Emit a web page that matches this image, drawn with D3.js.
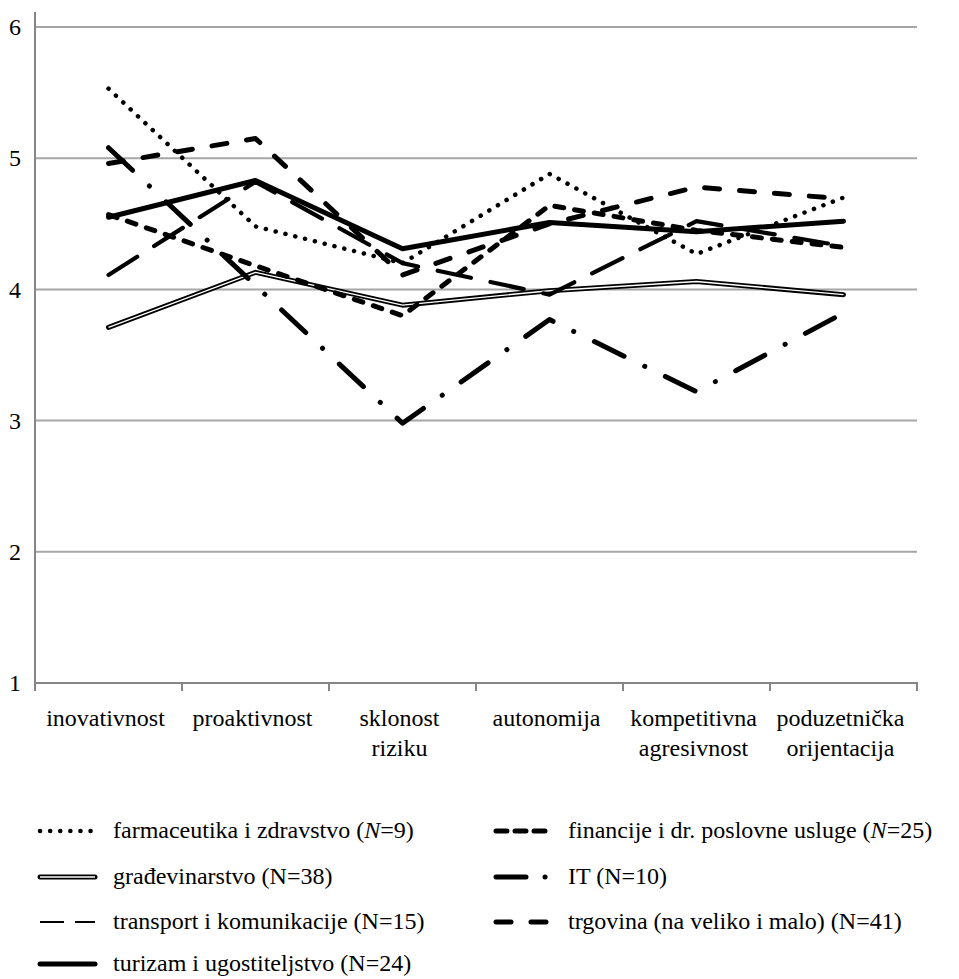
<!DOCTYPE html>
<html>
<head>
<meta charset="utf-8">
<script src="https://cdn.jsdelivr.net/npm/d3@7/dist/d3.min.js"></script>
<style>
  html, body { margin: 0; padding: 0; background: #fff; }
  svg { display: block; }
  svg text { font-family: 'Liberation Serif', 'Times New Roman', Times, Tinos, 'DejaVu Serif', 'Noto Serif', serif !important; fill: #000; }
</style>
</head>
<body>
<svg id="chart" width="959" height="979"></svg>
<script>
// ---------- data ----------
const categories = [
  ["inovativnost"],
  ["proaktivnost"],
  ["sklonost", "riziku"],
  ["autonomija"],
  ["kompetitivna", "agresivnost"],
  ["poduzetnička", "orijentacija"]
];
const yTicks = [1, 2, 3, 4, 5, 6];

const farmaceutika    = [5.53, 4.48, 4.20, 4.88, 4.27, 4.70];
const gradjevinarstvo = [3.71, 4.13, 3.88, 3.99, 4.06, 3.96];
const transport       = [4.11, 4.82, 4.20, 3.96, 4.52, 4.33];
const turizam         = [4.55, 4.83, 4.31, 4.51, 4.44, 4.52];
const financije       = [4.57, 4.18, 3.80, 4.64, 4.45, 4.32];
const it              = [5.08, 4.03, 2.98, 3.77, 3.22, 3.82];
const trgovina        = [4.96, 5.15, 4.11, 4.50, 4.78, 4.69];

const seriesNames = [
  ["farmaceutika i zdravstvo (", "N", "=9)", true],
  ["građevinarstvo (", "N", "=38)", false],
  ["transport i komunikacije (", "N", "=15)", false],
  ["turizam i ugostiteljstvo (", "N", "=24)", false],
  ["financije i dr. poslovne usluge (", "N", "=25)", true],
  ["IT (", "N", "=10)", false],
  ["trgovina (na veliko i malo) (", "N", "=41)", false]
];

// ---------- styles ----------
const styles = {
  farmaceutika:   {w: 4.5, dash: "0.1,10", cap: "round"},
  gradjevinarstvo:{w: 5, dash: null, cap: "round", double: true},
  transport:      {w: 4.2, dash: "34,20", cap: "round", legendW: 2, legendDash: "24,11", legendCap: "butt"},
  turizam:        {w: 5, dash: null, cap: "round"},
  financije:      {w: 5, dash: "9,11", cap: "round", legendDash: "11,8"},
  it:             {w: 5, dash: "33,23,0.1,23", cap: "round", legendDash: "30,19,0.1,30"},
  trgovina:       {w: 5, dash: "15,20", cap: "round", legendDash: "15,20"}
};

const seriesList = [
  ["gradjevinarstvo", gradjevinarstvo],
  ["transport", transport],
  ["financije", financije],
  ["trgovina", trgovina],
  ["it", it],
  ["turizam", turizam],
  ["farmaceutika", farmaceutika]
];

const FS = "24px";

// ---------- layout ----------
const svg = d3.select("#chart");
const x0 = 35, x1 = 917, yTop = 27, yBot = 683;

const x = d3.scaleBand().domain(categories.map((d, i) => i)).range([x0, x1]).padding(0);
const y = d3.scaleLinear().domain([1, 6]).range([yBot, yTop]);

// gridlines
svg.append("g").selectAll("line").data(yTicks.filter(t => t > 1)).join("line")
  .attr("x1", x0).attr("x2", x1)
  .attr("y1", d => y(d)).attr("y2", d => y(d))
  .attr("stroke", "#a6a6a6").attr("stroke-width", 2);

// y axis
const yAxis = d3.axisLeft(y).tickValues(yTicks).tickSize(0).tickPadding(14).tickFormat(d3.format("d"));
const gy = svg.append("g").attr("transform", `translate(${x0},0)`).call(yAxis);
gy.attr("font-family", null).attr("font-size", null);
gy.select(".domain").remove();
gy.selectAll("text").style("font-size", FS);
svg.append("line").attr("x1", x0).attr("x2", x0).attr("y1", 12).attr("y2", yBot + 5)
  .attr("stroke", "#868686").attr("stroke-width", 2);

// x axis
svg.append("line").attr("x1", x0).attr("x2", x1 + 1).attr("y1", yBot).attr("y2", yBot)
  .attr("stroke", "#868686").attr("stroke-width", 2);
const bounds = d3.range(categories.length + 1).map(i => x0 + i * x.bandwidth());
svg.append("g").selectAll("line").data(bounds).join("line")
  .attr("x1", d => d).attr("x2", d => d).attr("y1", yBot).attr("y2", yBot + 8)
  .attr("stroke", "#868686").attr("stroke-width", 2);

const xl = svg.append("g").selectAll("text").data(categories).join("text")
  .attr("text-anchor", "middle")
  .style("font-size", FS)
  .attr("x", (d, i) => x(i) + x.bandwidth() / 2 - 3)
  .attr("y", 726);
xl.selectAll("tspan").data(d => d).join("tspan")
  .attr("x", function() { return this.parentNode.getAttribute("x"); })
  .attr("dy", (d, j) => j === 0 ? 0 : 30)
  .text(d => d);

// lines
const line = d3.line().x((d, i) => x(i) + x.bandwidth() / 2).y(d => y(d));
seriesList.forEach(([key, vals]) => {
  const s = styles[key];
  svg.append("path").datum(vals).attr("d", line)
    .attr("fill", "none").attr("stroke", "#000")
    .attr("stroke-width", s.w)
    .attr("stroke-linecap", s.cap).attr("stroke-linejoin", "round")
    .attr("stroke-dasharray", s.dash);
  if (s.double) {
    svg.append("path").datum(vals).attr("d", line)
      .attr("fill", "none").attr("stroke", "#fff")
      .attr("stroke-width", 1.4).attr("stroke-linejoin", "round");
  }
});

// legend
const legendKeys = ["farmaceutika", "gradjevinarstvo", "transport", "turizam", "financije", "it", "trgovina"];
const legendPos = [
  [38, 831], [38, 877], [38, 922], [38, 964],
  [494, 831], [494, 877], [494, 922]
];
legendKeys.forEach((key, i) => {
  const s = styles[key];
  const [lx, ly] = legendPos[i];
  const sx2 = i < 4 ? lx + 59 : lx + 54;
  svg.append("line").attr("x1", lx + 2).attr("x2", sx2 - 2).attr("y1", ly).attr("y2", ly)
    .attr("stroke", "#000")
    .attr("stroke-width", s.legendW || s.w)
    .attr("stroke-linecap", s.legendCap || s.cap)
    .attr("stroke-dasharray", s.legendDash || s.dash);
  if (s.double) {
    svg.append("line").attr("x1", lx + 2).attr("x2", sx2 - 2).attr("y1", ly).attr("y2", ly)
      .attr("stroke", "#fff").attr("stroke-width", 1.4);
  }
  const nm = seriesNames[i];
  const t = svg.append("text").attr("x", i < 4 ? 113 : 568).attr("y", ly + 7)
    .style("font-size", FS);
  t.append("tspan").text(nm[0]);
  t.append("tspan").style("font-style", nm[3] ? "italic" : "normal").text(nm[1]);
  t.append("tspan").text(nm[2]);
});
</script>
</body>
</html>
